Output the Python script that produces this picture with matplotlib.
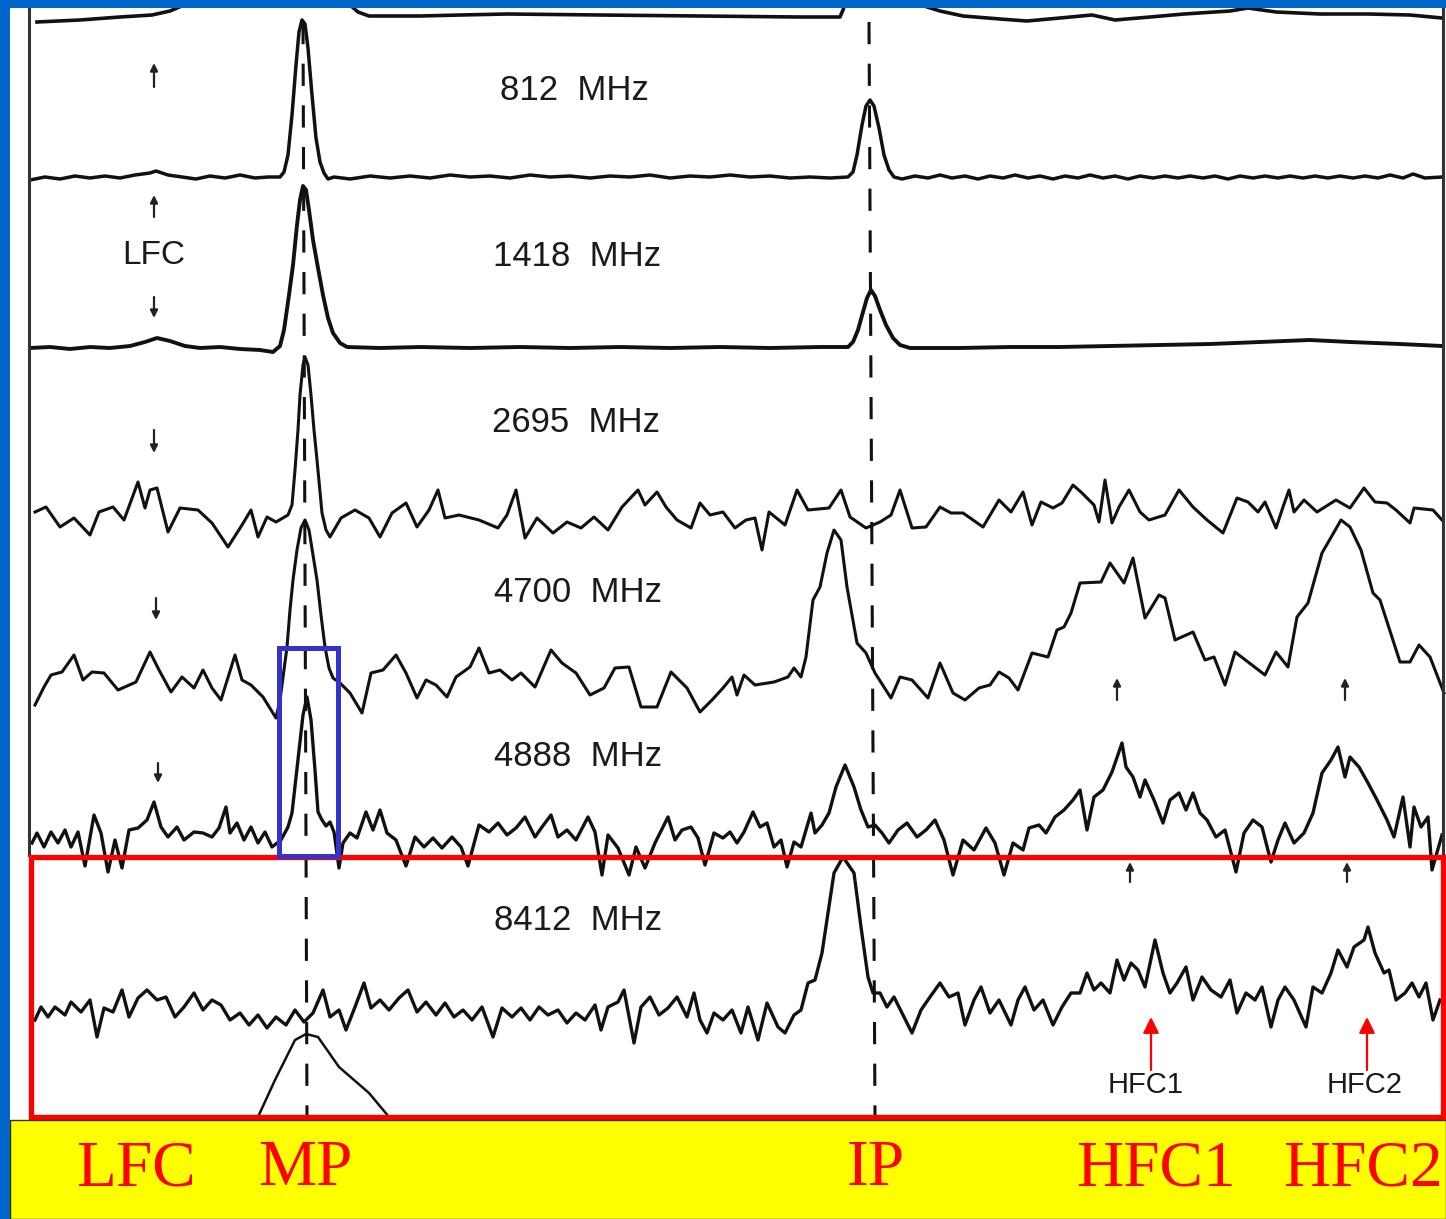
import numpy as np
import matplotlib.pyplot as plt
from matplotlib.patches import Rectangle

# Crab pulsar mean profiles.
# x = pulse phase bin, y = vertical plot position of each profile (image units)

top_a = [(37, 22), (80, 20), (120, 17), (152, 15), (170, 11), (184, 5)]
top_b = [(350, 5), (358, 12), (369, 16), (420, 16), (461, 15), (507, 14), (600, 15),
         (700, 16), (800, 17), (840, 17), (843, 10), (845, 4)]
top_c = [(921, 5), (940, 11), (963, 16), (1000, 19), (1027, 21), (1060, 18), (1092, 15),
         (1115, 20), (1150, 17), (1184, 14), (1230, 11), (1248, 8), (1276, 12), (1320, 14),
         (1368, 14), (1410, 15), (1442, 18)]

p812 = [(30, 180), (45, 177), (60, 179), (75, 176), (90, 178), (105, 176), (120, 178),
        (135, 175), (150, 173), (156, 171), (168, 175), (182, 177), (196, 179), (210, 176),
        (225, 178), (240, 175), (255, 178), (268, 177), (280, 177),
        (284, 172), (288, 155), (292, 115), (296, 65), (299, 32), (302, 20), (305, 24),
        (308, 48), (312, 95), (316, 138), (320, 162), (324, 173), (328, 179), (334, 177),
        (350, 179), (370, 176), (390, 178), (410, 176), (430, 178), (450, 175), (470, 177),
        (490, 176), (510, 178), (530, 175), (550, 177), (570, 176), (590, 178), (610, 176),
        (630, 177), (650, 175), (670, 178), (690, 176), (710, 177), (730, 175), (750, 177),
        (770, 176), (790, 178), (810, 177), (830, 178), (848, 177),
        (853, 172), (857, 155), (862, 125), (866, 106), (870, 100), (874, 106), (879, 128),
        (884, 155), (889, 170), (894, 177), (902, 179),
        (915, 176), (928, 178), (940, 175), (952, 178), (965, 176), (978, 179), (990, 176),
        (1003, 178), (1015, 175), (1028, 178), (1040, 176), (1053, 179), (1065, 176),
        (1078, 178), (1090, 175), (1103, 178), (1115, 176), (1128, 179), (1140, 176),
        (1153, 178), (1165, 176), (1178, 178), (1190, 176), (1203, 178), (1215, 176),
        (1228, 179), (1240, 176), (1253, 178), (1265, 176), (1278, 178), (1290, 176),
        (1303, 178), (1315, 176), (1328, 178), (1340, 176), (1353, 178), (1365, 176),
        (1378, 178), (1390, 175), (1403, 178), (1413, 174), (1425, 178), (1442, 177)]

p1418 = [(30, 348), (50, 347), (70, 349), (90, 347), (110, 348), (130, 346), (145, 342),
         (157, 338), (170, 341), (185, 346), (200, 348), (220, 347), (240, 349), (260, 350),
         (273, 352), (280, 346), (284, 330), (289, 295), (293, 265), (297, 225), (300, 200),
         (303, 186), (306, 190), (309, 210), (313, 240), (318, 268), (323, 295), (328, 318),
         (333, 333), (340, 343), (347, 347), (380, 348), (420, 347), (470, 348), (520, 347),
         (570, 348), (620, 347), (670, 348), (720, 347), (770, 348), (820, 347), (848, 347),
         (853, 342), (858, 330), (863, 312), (867, 298), (871, 290), (875, 296), (880, 310),
         (886, 325), (893, 338), (900, 345), (910, 348), (960, 348), (1010, 347),
         (1060, 347), (1110, 346), (1160, 345), (1210, 344), (1260, 342), (1310, 340),
         (1350, 342), (1400, 344), (1442, 346)]

p2695 = [(35, 512), (46, 507), (60, 527), (74, 518), (90, 535), (99, 512), (113, 507),
         (124, 520), (138, 482), (145, 508), (150, 490), (157, 488), (168, 532), (180, 508),
         (198, 510), (212, 523), (228, 547), (242, 525), (251, 510), (258, 537), (267, 517),
         (276, 522), (288, 515), (292, 505), (295, 470), (298, 430), (300, 395), (303, 365),
         (305, 357), (308, 365), (311, 395), (314, 430), (317, 460), (322, 513), (326, 530),
         (330, 537), (341, 518), (355, 510), (369, 518), (380, 537), (392, 513), (406, 503),
         (417, 527), (429, 510), (438, 490), (445, 518), (459, 515), (479, 520), (498, 528),
         (507, 515), (516, 490), (525, 538), (537, 518), (553, 533), (567, 522), (581, 528),
         (594, 517), (608, 530), (622, 507), (638, 490), (645, 505), (657, 492), (666, 507),
         (677, 520), (691, 528), (700, 503), (710, 515), (723, 512), (735, 528), (746, 520),
         (755, 518), (762, 550), (769, 512), (785, 525), (797, 490), (808, 510), (829, 508),
         (841, 490), (850, 517), (866, 528), (880, 522), (891, 515), (900, 490), (912, 528),
         (926, 527), (940, 507), (951, 513), (963, 513), (983, 527), (999, 500), (1011, 512),
         (1023, 492), (1032, 525), (1041, 502), (1053, 508), (1062, 503), (1073, 485),
         (1082, 493), (1094, 505), (1099, 522), (1105, 480), (1112, 523), (1119, 507),
         (1129, 490), (1140, 512), (1149, 520), (1165, 515), (1179, 490), (1193, 507),
         (1207, 520), (1223, 533), (1237, 498), (1248, 502), (1258, 512), (1265, 502),
         (1276, 528), (1283, 507), (1289, 490), (1294, 512), (1304, 500), (1317, 512),
         (1336, 500), (1350, 508), (1364, 488), (1375, 502), (1387, 503), (1396, 510),
         (1410, 523), (1414, 508), (1433, 510), (1442, 520)]

p4700 = [(35, 705), (44, 687), (51, 675), (62, 672), (74, 655), (83, 680), (92, 672),
         (104, 673), (118, 690), (136, 682), (150, 652), (159, 670), (171, 692), (182, 677),
         (194, 688), (203, 670), (212, 688), (221, 700), (235, 655), (242, 680), (251, 685),
         (263, 697), (276, 718), (280, 700), (284, 670), (287, 647), (290, 610), (293, 580),
         (297, 550), (301, 528), (305, 520), (309, 530), (313, 555), (317, 580), (321, 615),
         (325, 647), (329, 668), (333, 678), (340, 683), (350, 693), (362, 713), (371, 673),
         (383, 670), (396, 655), (406, 673), (417, 698), (426, 680), (436, 685), (447, 697),
         (456, 677), (470, 667), (479, 648), (489, 673), (500, 670), (512, 680), (521, 673),
         (535, 687), (551, 650), (562, 663), (576, 673), (590, 695), (604, 688), (615, 668),
         (629, 667), (641, 707), (657, 707), (671, 672), (687, 688), (700, 712), (712, 700),
         (723, 688), (732, 677), (737, 695), (744, 675), (755, 685), (774, 682), (788, 677),
         (794, 668), (801, 677), (806, 657), (813, 600), (820, 587), (827, 553), (834, 530),
         (841, 540), (847, 587), (857, 643), (866, 653), (875, 673), (891, 698), (900, 677),
         (912, 680), (928, 698), (940, 663), (953, 693), (965, 700), (979, 688), (990, 685),
         (999, 672), (1009, 678), (1018, 690), (1032, 653), (1048, 657), (1057, 630),
         (1064, 627), (1071, 613), (1080, 583), (1101, 582), (1110, 563), (1124, 583),
         (1133, 558), (1145, 618), (1159, 595), (1165, 598), (1175, 640), (1193, 632),
         (1205, 660), (1214, 657), (1225, 685), (1235, 652), (1248, 662), (1265, 675),
         (1276, 652), (1288, 667), (1297, 617), (1308, 603), (1322, 553), (1341, 520),
         (1350, 527), (1361, 550), (1373, 593), (1380, 600), (1400, 662), (1410, 662),
         (1419, 645), (1430, 657), (1444, 693)]

p4888 = [(32, 843), (37, 833), (44, 847), (51, 832), (58, 843), (65, 830), (71, 847),
         (78, 832), (85, 866), (94, 815), (101, 833), (108, 872), (115, 840), (122, 868),
         (129, 830), (138, 828), (147, 820), (154, 802), (161, 827), (168, 837), (177, 827),
         (184, 840), (194, 832), (203, 833), (212, 837), (219, 828), (226, 807), (230, 833),
         (237, 823), (244, 840), (251, 827), (258, 843), (265, 832), (272, 847), (281, 840),
         (288, 827), (292, 813), (298, 760), (303, 715), (307, 697), (311, 720), (315, 770),
         (318, 812), (322, 820), (326, 826), (330, 822), (334, 832), (339, 868), (343, 843),
         (350, 833), (357, 838), (366, 812), (373, 830), (380, 810), (387, 833), (396, 840),
         (406, 866), (415, 837), (424, 847), (433, 838), (442, 848), (452, 837), (461, 847),
         (468, 866), (479, 825), (489, 832), (498, 823), (507, 835), (516, 828), (525, 817),
         (535, 837), (542, 827), (551, 815), (558, 837), (567, 830), (576, 840), (588, 817),
         (595, 832), (602, 875), (608, 835), (618, 848), (629, 875), (636, 847), (645, 868),
         (655, 843), (668, 817), (675, 840), (682, 830), (691, 827), (698, 838), (705, 865),
         (714, 833), (723, 838), (730, 832), (737, 843), (744, 832), (753, 812), (760, 827),
         (767, 823), (774, 847), (781, 840), (787, 867), (794, 842), (801, 847), (811, 813),
         (815, 833), (822, 825), (829, 813), (836, 787), (845, 765), (854, 787), (861, 810),
         (868, 827), (875, 825), (882, 833), (889, 843), (898, 830), (907, 823), (917, 837),
         (926, 830), (935, 820), (944, 840), (953, 875), (963, 840), (974, 850), (986, 828),
         (995, 843), (1004, 875), (1013, 843), (1023, 850), (1029, 828), (1039, 825),
         (1046, 833), (1055, 817), (1064, 810), (1073, 800), (1080, 790), (1087, 830),
         (1094, 797), (1103, 790), (1112, 772), (1122, 743), (1126, 767), (1133, 777),
         (1140, 797), (1145, 780), (1154, 800), (1163, 823), (1170, 800), (1179, 793),
         (1186, 810), (1193, 793), (1200, 813), (1207, 820), (1216, 837), (1225, 830),
         (1236, 872), (1244, 833), (1253, 820), (1262, 827), (1271, 862), (1278, 840),
         (1285, 823), (1294, 843), (1304, 833), (1313, 813), (1322, 773), (1331, 760),
         (1338, 747), (1345, 777), (1350, 757), (1359, 767), (1368, 783), (1377, 800),
         (1387, 820), (1394, 837), (1403, 797), (1410, 847), (1414, 807), (1421, 827),
         (1428, 817), (1432, 870), (1442, 835)]

p8412 = [(35, 1020), (41, 1007), (48, 1017), (55, 1007), (65, 1015), (71, 1002), (81, 1012),
         (90, 1000), (97, 1037), (104, 1008), (113, 1012), (122, 990), (129, 1017),
         (138, 998), (147, 990), (157, 1000), (166, 997), (175, 1017), (184, 1007),
         (194, 993), (203, 1010), (212, 1000), (221, 1005), (230, 1020), (240, 1013),
         (249, 1025), (258, 1015), (267, 1028), (276, 1017), (286, 1025), (295, 1010),
         (304, 1022), (313, 1013), (323, 990), (330, 1017), (339, 1010), (346, 1030),
         (355, 1007), (364, 983), (371, 1008), (380, 1000), (389, 1010), (399, 998),
         (408, 990), (417, 1012), (426, 1002), (436, 1015), (445, 1003), (454, 1017),
         (463, 1010), (472, 1020), (482, 1007), (493, 1037), (502, 1008), (512, 1017),
         (521, 1008), (530, 1020), (539, 1007), (548, 1015), (558, 1010), (567, 1023),
         (576, 1013), (585, 1020), (595, 1005), (601, 1030), (608, 1007), (618, 1002),
         (624, 990), (634, 1043), (641, 1007), (650, 997), (659, 1015), (668, 1008),
         (677, 997), (687, 1017), (694, 993), (700, 1020), (707, 1033), (714, 1013),
         (723, 1020), (732, 1010), (741, 1033), (748, 1007), (758, 1040), (767, 1003),
         (778, 1027), (785, 1033), (794, 1015), (801, 1010), (808, 983), (815, 980),
         (822, 953), (834, 873), (843, 857), (854, 873), (861, 927), (868, 977), (873, 993),
         (880, 993), (887, 1007), (894, 997), (903, 1015), (912, 1033), (921, 1010),
         (930, 997), (940, 983), (949, 997), (958, 993), (965, 1025), (974, 1000),
         (981, 987), (990, 1013), (999, 1000), (1011, 1025), (1018, 1000), (1025, 987),
         (1034, 1010), (1043, 1000), (1053, 1025), (1062, 1007), (1071, 993), (1080, 993),
         (1087, 973), (1094, 990), (1101, 983), (1110, 993), (1117, 960), (1124, 980),
         (1131, 963), (1138, 970), (1145, 987), (1155, 940), (1163, 973), (1170, 993),
         (1177, 983), (1186, 967), (1193, 1000), (1202, 977), (1211, 990), (1221, 997),
         (1230, 980), (1237, 1013), (1246, 993), (1255, 1000), (1262, 987), (1271, 1027),
         (1278, 1000), (1285, 987), (1294, 1000), (1306, 1027), (1313, 987), (1322, 993),
         (1331, 973), (1338, 950), (1347, 967), (1354, 947), (1364, 940), (1368, 927),
         (1375, 953), (1384, 973), (1389, 970), (1396, 1000), (1405, 993), (1412, 983),
         (1419, 997), (1426, 983), (1433, 1020), (1440, 1000)]

# part of the next (clipped) profile below 8412 MHz
p_low = [(258, 1117), (275, 1080), (295, 1040), (306, 1034), (318, 1037), (339, 1067),
         (369, 1093), (389, 1117)]

freq_labels = ['812  MHz', '1418  MHz', '2695  MHz', '4700  MHz', '4888  MHz', '8412  MHz']
freq_label_x = [500, 493, 492, 494, 494, 494]
freq_label_y = [91, 256, 423, 592, 756, 920]

comp_names = ['LFC', 'MP', 'IP', 'HFC1', 'HFC2']
comp_x = [136, 305, 876, 1156, 1363]

W, H = 1446, 1219
fig = plt.figure(figsize=(W / 100, H / 100), dpi=100)
ax = fig.add_axes([0, 0, 1, 1])
ax.set_xlim(0, W)
ax.set_ylim(H, 0)
ax.axis('off')

ink = '#111111'

def trace(pts, lw):
    a = np.array(pts, dtype=float)
    ax.plot(a[:, 0], a[:, 1], color=ink, lw=lw, solid_joinstyle='round', zorder=2)

for seg in (top_a, top_b, top_c):
    trace(seg, 2.6)
trace(p812, 2.5)
trace(p1418, 2.8)
trace(p2695, 2.2)
trace(p4700, 2.2)
trace(p4888, 2.4)
trace(p8412, 2.4)
trace(p_low, 1.8)

# frame lines of the panel
ax.plot([29, 29], [8, 855], color='#333333', lw=2.2, zorder=2)
ax.plot([1443, 1443], [8, 855], color='#333333', lw=2.2, zorder=2)

# dashed reference lines through MP and IP
lw_d = 2.2
ax.plot([303, 307], [22, 1117], color=ink, lw=lw_d, ls=(0, (16 / lw_d, 14 / lw_d)), zorder=1.5)
ax.plot([869, 875], [22, 1117], color=ink, lw=lw_d, ls=(0, (16 / lw_d, 14 / lw_d)), zorder=1.5)

for lab, lx, ly in zip(freq_labels, freq_label_x, freq_label_y):
    ax.text(lx, ly, lab, fontsize=25, family='Liberation Sans', color='#1a1a1a',
            ha='left', va='center', zorder=3)

ax.text(154, 256, 'LFC', fontsize=24, family='Liberation Sans', color='#1a1a1a',
        ha='center', va='center', zorder=3)

def small_arrow(x, y0, y1):
    ax.annotate('', xy=(x, y1), xytext=(x, y0), zorder=3,
                arrowprops=dict(arrowstyle='-|>', color='#222222', lw=1.6,
                                mutation_scale=11, shrinkA=0, shrinkB=0))

small_arrow(154, 87, 63)
small_arrow(154, 217, 195)
small_arrow(154, 297, 318)
small_arrow(154, 430, 453)
small_arrow(156, 598, 620)
small_arrow(158, 763, 783)
small_arrow(1117, 700, 678)
small_arrow(1345, 700, 678)
small_arrow(1130, 882, 862)
small_arrow(1347, 882, 862)

# red markers for the high-frequency components
for x in (1151, 1367):
    ax.annotate('', xy=(x, 1017), xytext=(x, 1070), zorder=3,
                arrowprops=dict(arrowstyle='-|>', color='red', lw=1.6,
                                mutation_scale=24, shrinkA=0, shrinkB=0))
ax.text(1146, 1085, 'HFC1', fontsize=21, family='Liberation Sans', color='#1a1a1a',
        ha='center', va='center', zorder=3)
ax.text(1365, 1085, 'HFC2', fontsize=21, family='Liberation Sans', color='#1a1a1a',
        ha='center', va='center', zorder=3)

# highlight boxes
ax.add_patch(Rectangle((31, 857), 1412, 260, fill=False, ec='#ff0000', lw=3.8, zorder=4))
ax.add_patch(Rectangle((279, 648), 59, 208, fill=False, ec='#3333cc', lw=3.6, zorder=4))

# slide border and caption bar
ax.add_patch(Rectangle((10, 1120), W - 10, H - 1120, fc='#ffff00', ec='#333300', lw=1.0, zorder=5))
ax.add_patch(Rectangle((0, 0), W, 8, fc='#0066cc', ec='none', zorder=6))
ax.add_patch(Rectangle((0, 0), 10, H, fc='#0066cc', ec='none', zorder=6))

for name, cx in zip(comp_names, comp_x):
    ax.text(cx, 1185, name, fontsize=47, family='Liberation Serif', color='#ff0000',
            ha='center', va='baseline', zorder=7)

fig.savefig('out.png', dpi=100)
